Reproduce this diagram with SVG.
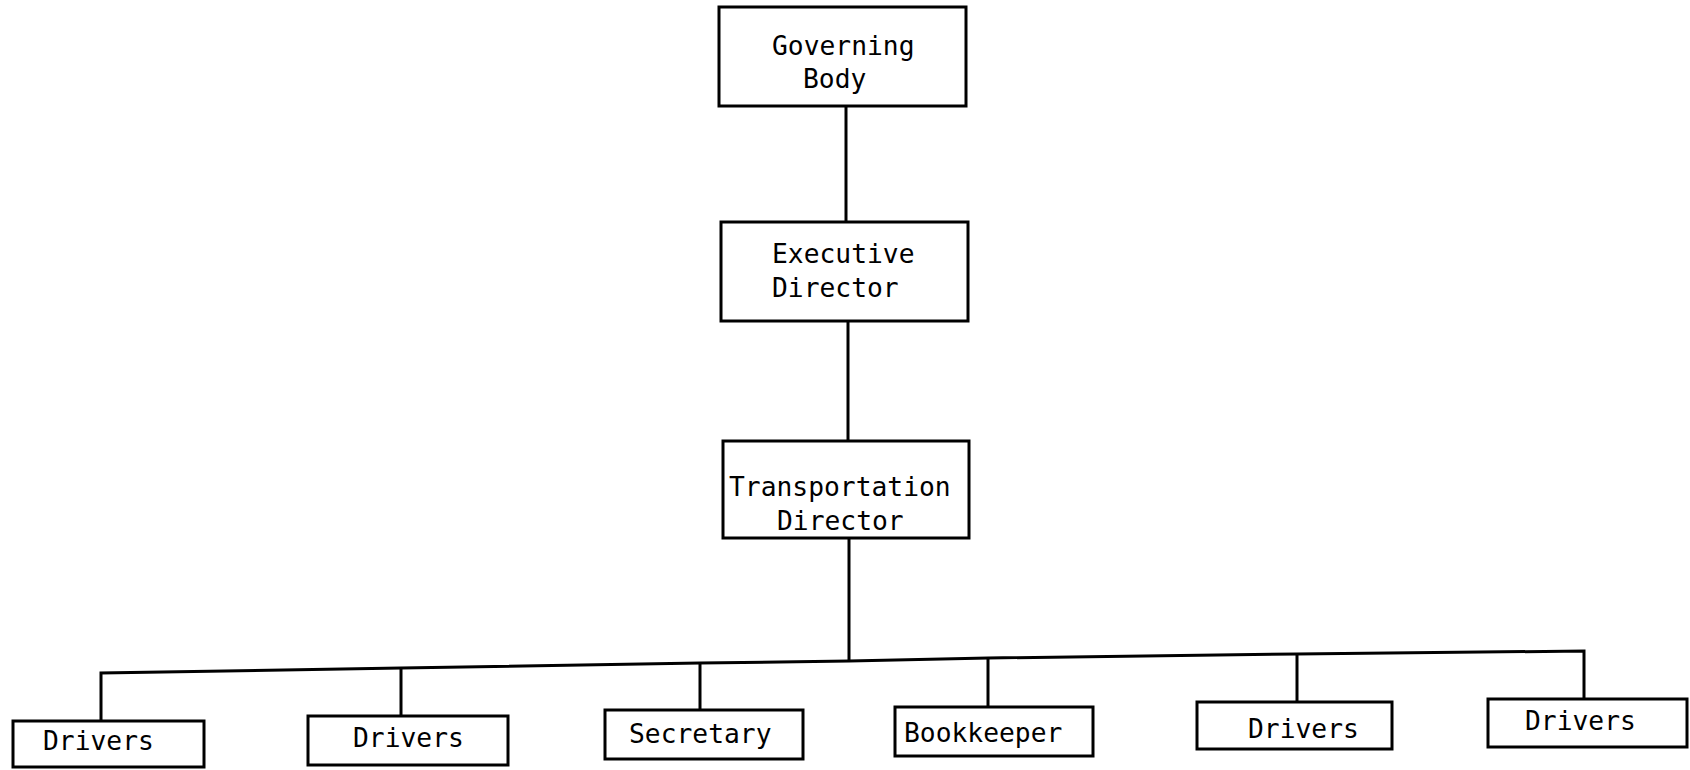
<svg xmlns="http://www.w3.org/2000/svg" width="1690" height="770" viewBox="0 0 1690 770">
<style>
.box{fill:#fff;stroke:#000;stroke-width:3}
.ln{fill:none;stroke:#000;stroke-width:3;stroke-linejoin:miter}
.t{font-family:"DejaVu Sans Mono","Liberation Mono",monospace;font-size:26.3px;fill:#000}
</style>
<rect width="1690" height="770" fill="#fff"/>
<g id="connectors">
<line class="ln" x1="846" y1="106" x2="846" y2="222"/>
<line class="ln" x1="848" y1="321" x2="848" y2="441"/>
<line class="ln" x1="849" y1="538" x2="849" y2="661"/>
<polyline class="ln" points="101,721 101,673 401,668 700,663 849,661 988,658 1297,654 1584,651 1584,699"/>
<line class="ln" x1="401" y1="668" x2="401" y2="716"/>
<line class="ln" x1="700" y1="663" x2="700" y2="710"/>
<line class="ln" x1="988" y1="658" x2="988" y2="707"/>
<line class="ln" x1="1297" y1="654" x2="1297" y2="702"/>
</g>
<g id="governing-body">
<rect class="box" x="719" y="7" width="247" height="99"/>
<text class="t" x="772" y="55">Governing</text>
<text class="t" x="803" y="88">Body</text>
</g>
<g id="executive-director">
<rect class="box" x="721" y="222" width="247" height="99"/>
<text class="t" x="772" y="263">Executive</text>
<text class="t" x="772" y="297">Director</text>
</g>
<g id="transportation-director">
<rect class="box" x="723" y="441" width="246" height="97"/>
<text class="t" x="729" y="496">Transportation</text>
<text class="t" x="777" y="530">Director</text>
</g>
<g id="drivers-1">
<rect class="box" x="13" y="721" width="191" height="46"/>
<text class="t" x="43" y="750">Drivers</text>
</g>
<g id="drivers-2">
<rect class="box" x="308" y="716" width="200" height="49"/>
<text class="t" x="353" y="747">Drivers</text>
</g>
<g id="secretary">
<rect class="box" x="605" y="710" width="198" height="49"/>
<text class="t" x="629" y="743">Secretary</text>
</g>
<g id="bookkeeper">
<rect class="box" x="895" y="707" width="198" height="49"/>
<text class="t" x="904" y="742">Bookkeeper</text>
</g>
<g id="drivers-5">
<rect class="box" x="1197" y="702" width="195" height="47"/>
<text class="t" x="1248" y="738">Drivers</text>
</g>
<g id="drivers-6">
<rect class="box" x="1488" y="699" width="199" height="48"/>
<text class="t" x="1525" y="730">Drivers</text>
</g>
</svg>
